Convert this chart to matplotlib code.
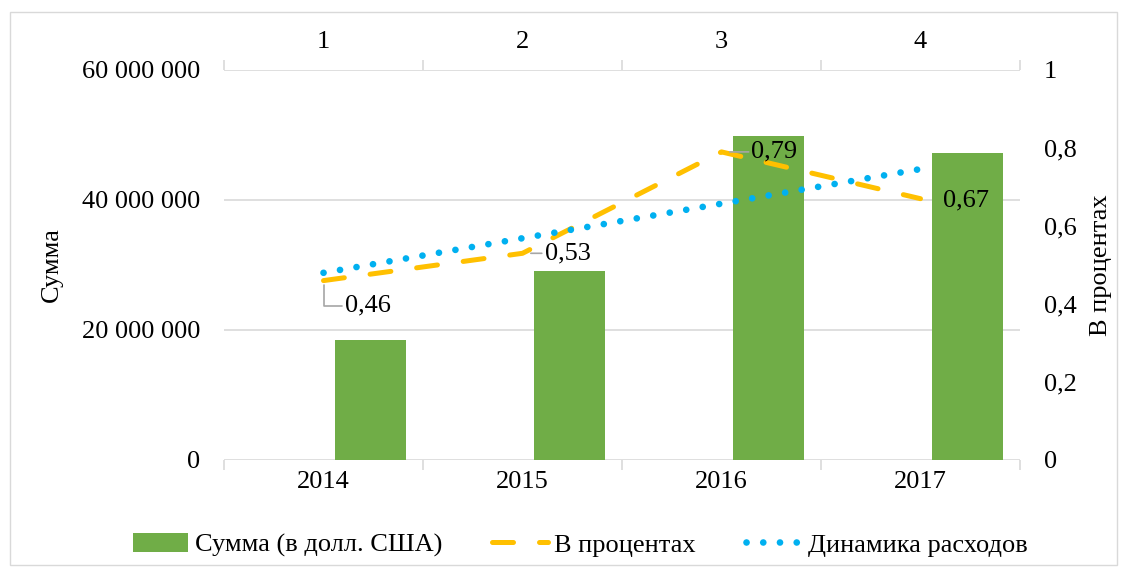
import matplotlib
matplotlib.use('Agg')
import matplotlib.pyplot as plt
from matplotlib.patches import Rectangle

# chart data
years = ['2014', '2015', '2016', '2017']
top_labels = ['1', '2', '3', '4']
sums_usd = [18500000, 29100000, 49800000, 47300000]
percent = [0.46, 0.53, 0.79, 0.67]
trend_ends = [0.48, 0.746]   # Excel linear trendline, first and last category
left_ticks = [0, 20000000, 40000000, 60000000]
left_tick_labels = ['0', '20 000 000', '40 000 000', '60 000 000']
right_ticks = [0, 0.2, 0.4, 0.6, 0.8, 1.0]
right_tick_labels = ['0', '0,2', '0,4', '0,6', '0,8', '1']

plt.rcParams['font.family'] = ['Liberation Serif', 'DejaVu Serif']
FS = 19
GREEN = '#70AD47'
ORANGE = '#FFC000'
BLUE = '#00B0F0'
GRID = '#D9D9D9'

fig = plt.figure(figsize=(11.27, 5.69), dpi=100)
fig.patches.append(Rectangle((10 / 1127, 4 / 569), 1107 / 1127, 553 / 569,
                             transform=fig.transFigure, fill=False,
                             edgecolor=GRID, linewidth=1))

ax = fig.add_axes([224 / 1127, 1 - 460 / 569, 796 / 1127, 390 / 569])
ax2 = ax.twinx()

x = list(range(len(years)))
ax.bar([i + 0.236 for i in x], sums_usd, width=0.36, color=GREEN,
       label='Сумма (в долл. США)', zorder=2)
ax.set_xlim(-0.5, 3.5)
ax.set_ylim(0, 60000000)
ax.set_yticks(left_ticks)
ax.set_yticklabels(left_tick_labels, fontsize=FS)
ax.tick_params(axis='y', length=0, pad=17)
ax.grid(axis='y', color=GRID, linewidth=1.2, zorder=0)
for s in ax.spines.values():
    s.set_visible(False)
for s in ax2.spines.values():
    s.set_visible(False)

# bottom category axis: ticks at boundaries, labels at centers
ax.set_xticks([-0.5, 0.5, 1.5, 2.5, 3.5])
ax.set_xticklabels([])
ax.set_xticks(x, minor=True)
ax.set_xticklabels(years, minor=True, fontsize=FS)
ax.tick_params(axis='x', which='major', length=7, color=GRID, width=1.2)
ax.tick_params(axis='x', which='minor', length=0, pad=8)
ax.set_ylabel('Сумма', fontsize=FS, labelpad=14)

# top axis (secondary horizontal)
top = ax.secondary_xaxis('top')
top.set_xticks([-0.5, 0.5, 1.5, 2.5, 3.5])
top.set_xticklabels([])
top.set_xticks(x, minor=True)
top.set_xticklabels(top_labels, minor=True, fontsize=FS)
top.tick_params(axis='x', which='major', length=7, color=GRID, width=1.2)
top.tick_params(axis='x', which='minor', length=0, pad=12)
top.spines['top'].set_visible(False)

# lines on secondary axis
ax2.set_ylim(0, 1)
ax2.set_yticks(right_ticks)
ax2.set_yticklabels(right_tick_labels, fontsize=FS)
ax2.tick_params(axis='y', length=0, pad=17)
ax2.set_ylabel('В процентах', fontsize=FS, labelpad=10)

ax2.plot(x, percent, color=ORANGE, linewidth=3.6, linestyle=(0, (4.2, 5.2)),
         dash_capstyle='round', label='В процентах', zorder=3)
ax2.plot([x[0], x[-1]], trend_ends, color=BLUE, linewidth=4.8,
         linestyle=(0, (0.01, 2.5)), dash_capstyle='round',
         label='Динамика расходов', zorder=4)

# data labels
label_offsets = [(44, -25), (45, 0), (53, 0), (45, -2)]
for i, (v, off) in enumerate(zip(percent, label_offsets)):
    txt = f'{v:.2f}'.replace('.', ',')
    arrow = None
    if i == 0:
        arrow = dict(arrowstyle='-', color='#A6A6A6', lw=1.2,
                     shrinkA=0, shrinkB=3,
                     connectionstyle='angle,angleA=0,angleB=90,rad=0')
    elif i in (1, 2):
        arrow = dict(arrowstyle='-', color='#A6A6A6', lw=1.2,
                     shrinkA=0, shrinkB=6)
    ax2.annotate(txt, (x[i], v), xytext=off, textcoords='offset pixels',
                 ha='center', va='center', fontsize=FS, arrowprops=arrow,
                 zorder=5)

h1, l1 = ax.get_legend_handles_labels()
h2, l2 = ax2.get_legend_handles_labels()
fig.legend(h1 + h2, l1 + l2, loc='center', bbox_to_anchor=(0.515, 1 - 545 / 569),
           ncol=3, frameon=False, fontsize=FS, handlelength=2.1,
           handletextpad=0.25, columnspacing=1.9)

fig.savefig('out.png', dpi=100)
plt.close(fig)
